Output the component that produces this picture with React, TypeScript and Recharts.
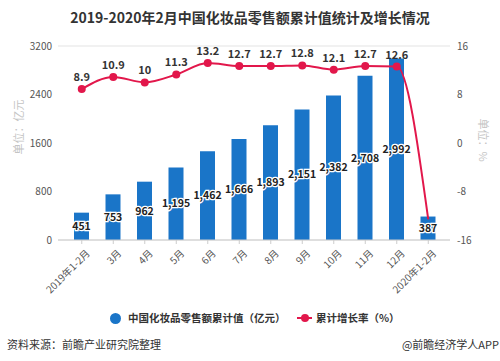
import React from 'react';
import { ComposedChart, Bar, Line, XAxis, YAxis, CartesianGrid, LabelList } from 'recharts';

const months = ['2019年1-2月', '3月', '4月', '5月', '6月', '7月', '8月', '9月', '10月', '11月', '12月', '2020年1-2月'];
const retailValues = [451, 753, 962, 1195, 1462, 1666, 1893, 2151, 2382, 2708, 2992, 387];
const growthRates = [8.9, 10.9, 10, 11.3, 13.2, 12.7, 12.7, 12.8, 12.1, 12.7, 12.6, -12.6];
const leftTicks = [0, 800, 1600, 2400, 3200];
const rightTicks = [-16, -8, 0, 8, 16];

const data = months.map((m, i) => ({ month: m, value: retailValues[i], rate: growthRates[i] }));

const FONT = '"Noto Sans CJK SC", "Noto Sans", sans-serif';
const BLUE = '#1a75c8';
const RED = '#e2174b';

const MonthTick = (props: any) => {
    const { x, y, payload } = props;
    return (
        <g transform={`translate(${x + 4},${y + 3})`}>
            <text textAnchor="end" transform="rotate(-45)" fontSize={10} fill="#555" fontFamily={FONT} dy="0.7em">
                {payload.value}
            </text>
        </g>
    );
};

const RateLabel = (props: any) => {
    const { x, y, value, index } = props;
    if (index === months.length - 1) return null;
    return (
        <text x={x} y={y - 8} textAnchor="middle" fontSize={11} fontWeight="bold" fill="#333" fontFamily={FONT}>
            {value}
        </text>
    );
};

// last point has no marker in the original
const RateDot = (props: any) => {
    const { cx, cy, index } = props;
    if (index === months.length - 1) return <g key={index} />;
    return <circle key={index} cx={cx} cy={cy} r={4} fill={RED} />;
};

const ValueLabel = (props: any) => {
    const { x, y, width, height, value } = props;
    return (
        <text
            x={x + width / 2}
            y={y + height / 2}
            dy="0.35em"
            textAnchor="middle"
            fontSize={10.5}
            fontWeight="bold"
            fill="#222"
            stroke="#fff"
            strokeWidth={2.5}
            paintOrder="stroke"
            fontFamily={FONT}
        >
            {Number(value).toLocaleString('en-US')}
        </text>
    );
};

export default function App() {
    return (
        <div style={{ position: 'absolute', left: 0, top: 0, width: 500, height: 361, background: '#fff', fontFamily: FONT, overflow: 'hidden' }}>
            <div style={{ position: 'absolute', top: 7, left: 0, width: 500, textAlign: 'center', fontSize: 14, fontWeight: 'bold', color: '#333' }}>
                2019-2020年2月中国化妆品零售额累计值统计及增长情况
            </div>
            <div style={{ position: 'absolute', left: 0, top: 0 }}>
                <ComposedChart width={500} height={300} data={data} margin={{ top: 46, right: 20, left: 18, bottom: 5 }}>
                    <CartesianGrid vertical={false} stroke="#e3e3e3" />
                    <XAxis
                        dataKey="month"
                        interval={0}
                        height={55}
                        padding={{ left: 8, right: 6 }}
                        tick={<MonthTick />}
                        axisLine={{ stroke: '#ccc' }}
                        tickLine={{ stroke: '#ccc' }}
                        tickSize={4}
                    />
                    <YAxis
                        yAxisId="left"
                        width={40}
                        domain={[0, 3200]}
                        ticks={leftTicks}
                        axisLine={false}
                        tickLine={false}
                        tickMargin={0}
                        tick={{ fontSize: 10, fill: '#555', fontFamily: FONT }}
                    />
                    <YAxis
                        yAxisId="right"
                        orientation="right"
                        width={30}
                        domain={[-16, 16]}
                        ticks={rightTicks}
                        axisLine={false}
                        tickLine={false}
                        tickMargin={1}
                        tick={{ fontSize: 10, fill: '#555', fontFamily: FONT }}
                    />
                    <Bar yAxisId="left" dataKey="value" fill={BLUE} barSize={15} isAnimationActive={false}>
                        <LabelList dataKey="value" content={<ValueLabel />} />
                    </Bar>
                    <Line
                        yAxisId="right"
                        type="monotone"
                        dataKey="rate"
                        stroke={RED}
                        strokeWidth={2}
                        dot={<RateDot />}
                        isAnimationActive={false}
                    >
                        <LabelList dataKey="rate" content={<RateLabel />} />
                    </Line>
                </ComposedChart>
            </div>
            <div style={{ position: 'absolute', left: 18, top: 127, transform: 'translate(-50%,-50%) rotate(-90deg)', fontSize: 11, color: '#c4c4c4', whiteSpace: 'nowrap' }}>
                单位：亿元
            </div>
            <div style={{ position: 'absolute', left: 484, top: 140, transform: 'translate(-50%,-50%) rotate(90deg)', fontSize: 11, color: '#c4c4c4', whiteSpace: 'nowrap' }}>
                单位：%
            </div>
            <div style={{ position: 'absolute', top: 310, left: 0, width: 500, height: 16, fontSize: 10.5, color: '#333', fontWeight: 'bold' }}>
                <span style={{ position: 'absolute', left: 110, top: 3, width: 11, height: 11, borderRadius: '50%', background: BLUE }} />
                <span style={{ position: 'absolute', left: 128, top: 0, whiteSpace: 'nowrap' }}>中国化妆品零售额累计值（亿元）</span>
                <span style={{ position: 'absolute', left: 297, top: 7, width: 15, height: 2, background: RED }} />
                <span style={{ position: 'absolute', left: 301, top: 4, width: 8, height: 8, borderRadius: '50%', background: RED }} />
                <span style={{ position: 'absolute', left: 316, top: 0, whiteSpace: 'nowrap' }}>累计增长率（%）</span>
            </div>
            <div style={{ position: 'absolute', left: 7, top: 336, fontSize: 11, color: '#333', whiteSpace: 'nowrap' }}>资料来源：前瞻产业研究院整理</div>
            <div style={{ position: 'absolute', right: 1, top: 336, fontSize: 11, color: '#333', whiteSpace: 'nowrap' }}>@前瞻经济学人APP</div>
        </div>
    );
}
